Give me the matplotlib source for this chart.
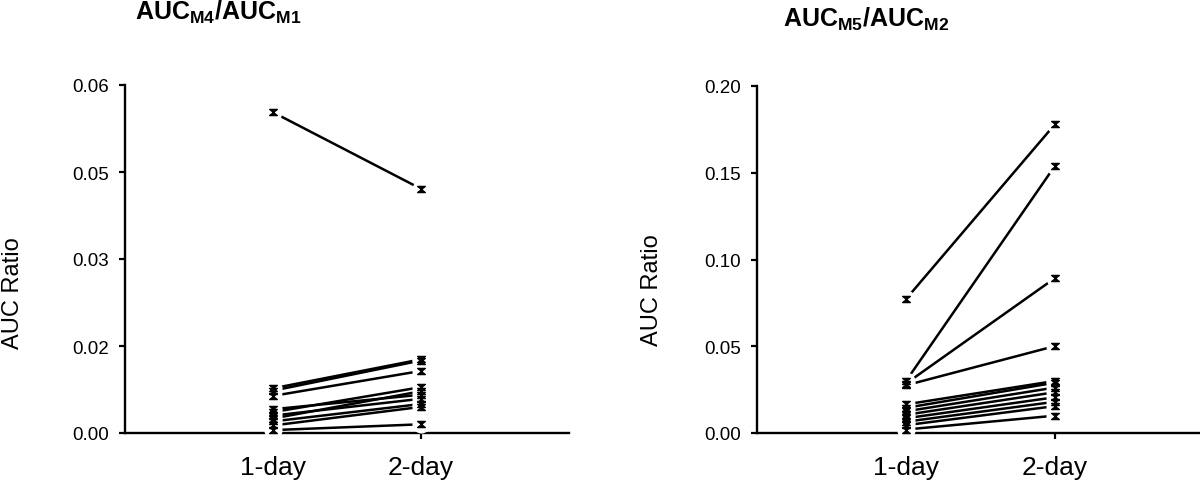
import matplotlib
matplotlib.use('Agg')
import matplotlib.pyplot as plt
from matplotlib.path import Path

plt.rcParams['font.family'] = ['Liberation Sans', 'DejaVu Sans']
plt.rcParams['mathtext.fontset'] = 'custom'
plt.rcParams['mathtext.bf'] = 'Liberation Sans:bold'
plt.rcParams['mathtext.rm'] = 'Liberation Sans'

# ---- data ----
categories = ['1-day', '2-day']
m4_m1_day1 = [0.0553, 0.0077, 0.0073, 0.0064, 0.0041, 0.0036, 0.0030, 0.0025, 0.0020, 0.0013, 0.0005]
m4_m1_day2 = [0.0421, 0.0127, 0.0125, 0.0107, 0.0066, 0.0079, 0.0059, 0.0072, 0.0050, 0.0045, 0.0015]
m5_m2_day1 = [0.0772, 0.0300, 0.0285, 0.0275, 0.0165, 0.0145, 0.0125, 0.0105, 0.0085, 0.0065, 0.0045, 0.0020]
m5_m2_day2 = [0.1780, 0.1540, 0.0893, 0.0501, 0.0300, 0.0290, 0.0262, 0.0235, 0.0206, 0.0180, 0.0155, 0.0100]
left_ticks = [0.0, 0.015, 0.03, 0.045, 0.06]
left_tick_labels = ['0.00', '0.02', '0.03', '0.05', '0.06']
right_ticks = [0.0, 0.05, 0.10, 0.15, 0.20]
right_tick_labels = ['0.00', '0.05', '0.10', '0.15', '0.20']
y_label = 'AUC Ratio'
left_title = r'$\mathbf{AUC_{M4}/AUC_{M1}}$'
right_title = r'$\mathbf{AUC_{M5}/AUC_{M2}}$'

hourglass = Path([(-1, 0.8), (1, 0.8), (-1, -0.8), (1, -0.8), (-1, 0.8)],
                 [Path.MOVETO, Path.LINETO, Path.LINETO, Path.LINETO, Path.CLOSEPOLY])

fig = plt.figure(figsize=(12, 4.85), dpi=100)
W, H = 1200.0, 485.0

ax1 = fig.add_axes([125 / W, 51 / H, 444 / W, 348 / H])
ax2 = fig.add_axes([757 / W, 51 / H, 443 / W, 347 / H])


def draw(ax, d1, d2, ylim, ticks, labels, xmax):
    xs = [1, 2]
    for a, b in zip(d1, d2):
        ax.plot(xs, [a, b], color='black', lw=1.8, zorder=2, solid_capstyle='butt')
    for xi, d in zip(xs, (d1, d2)):
        ax.plot([xi] * len(d), d, ls='none', marker='o', ms=13, mfc='white', mec='none',
                zorder=3, clip_on=False)
    for xi, d in zip(xs, (d1, d2)):
        ax.plot([xi] * len(d), d, ls='none', marker=hourglass, ms=5.5, mfc='black', mec='black',
                mew=1.0, zorder=4, clip_on=False)
    ax.set_xlim(0, xmax)
    ax.set_ylim(*ylim)
    ax.set_yticks(ticks)
    ax.set_yticklabels(labels)
    ax.set_xticks(xs)
    ax.set_xticklabels(categories)
    for s in ('top', 'right'):
        ax.spines[s].set_visible(False)
    for s in ('left', 'bottom'):
        ax.spines[s].set_linewidth(1.7)
    ax.tick_params(axis='both', direction='out', length=4.5, width=1.6)
    ax.tick_params(axis='x', pad=11, labelsize=19)
    ax.tick_params(axis='y', pad=7, labelsize=13.5)


draw(ax1, m4_m1_day1, m4_m1_day2, (0, 0.06), left_ticks, left_tick_labels, 3.0)
draw(ax2, m5_m2_day1, m5_m2_day2, (0, 0.20), right_ticks, right_tick_labels, 443 / 149)

fig.text(135 / W, 1 - 20 / H, left_title, fontsize=18, ha='left', va='baseline')
fig.text(783 / W, 1 - 27 / H, right_title, fontsize=18, ha='left', va='baseline')
fig.text(13 / W, 1 - 293 / H, y_label, fontsize=17, rotation=90, ha='center', va='center')
fig.text(652 / W, 1 - 290 / H, y_label, fontsize=17, rotation=90, ha='center', va='center')

fig.savefig('out.png', dpi=100, facecolor='white')
